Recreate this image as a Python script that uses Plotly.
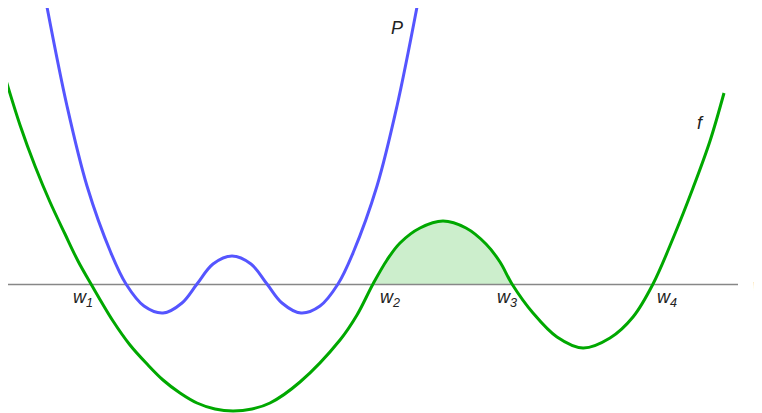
import plotly.graph_objects as go

# points; x along the w axis, y = height above the axis
f_x = [5, 20, 35, 50, 65, 78, 91, 113, 130, 147, 163, 180, 197, 215, 233, 252, 270, 300, 340, 357, 373, 387,
       400, 420, 443, 466, 486, 500, 512, 533, 557, 583, 610, 633, 653, 674, 693, 710, 724]
f_y = [207.5, 159.5, 118.5, 82.5, 50.5, 23.5, 0.5, -36.5, -60.5, -79.5, -95.5, -108.5, -118.5, -124.5,
       -126.5, -124.5, -118.5, -97.5, -55.5, -30.5, 0.5, 24.5, 41.5, 56.5, 63.5, 56.5, 40.5, 22.5, 0.5,
       -28.5, -52.5, -63.5, -53.5, -32.5, 0.5, 48.5, 96.5, 143.5, 191.5]

p_x = [47, 67, 87, 111, 126, 144, 163, 182, 197, 213, 232,
       251, 267, 282, 301, 320, 338, 353, 377, 397, 417]
p_y = [277.5, 178.5, 98.5, 31.5, 0.5, -21.5, -28.5, -18.5, 0.5, 20.5, 28.5,
       20.5, 0.5, -18.5, -28.5, -21.5, 0.5, 31.5, 98.5, 178.5, 277.5]

root_labels = ["1", "2", "3", "4"]
root_x = [83, 390, 507, 667]

GREEN = "rgb(0,168,0)"
BLUE = "rgb(85,85,255)"
GREY = "rgb(135,135,135)"
FONT = "Liberation Sans, Arial, sans-serif"

fig = go.Figure()

# shaded area where f > 0 between w2 and w3
fill_x = [x for x, y in zip(f_x, f_y) if 373 <= x <= 512]
fill_y = [max(y, 0) for x, y in zip(f_x, f_y) if 373 <= x <= 512]
fig.add_trace(go.Scatter(
    x=fill_x, y=fill_y, mode="lines", line=dict(width=0, shape="spline"),
    fill="tozeroy", fillcolor="rgba(0,168,0,0.2)", hoverinfo="skip"
))

# the w axis
fig.add_trace(go.Scatter(
    x=[7, 738], y=[0, 0], mode="lines",
    line=dict(color=GREY, width=1.5), hoverinfo="skip"
))

fig.add_trace(go.Scatter(
    x=p_x, y=p_y, mode="lines", line=dict(color=BLUE, width=3, shape="spline")
))
fig.add_trace(go.Scatter(
    x=f_x, y=f_y, mode="lines", line=dict(color=GREEN, width=3, shape="spline")
))

for lab, x in zip(root_labels, root_x):
    fig.add_annotation(
        x=x, y=-14, text=f"<i>w<sub>{lab}</sub></i>", showarrow=False,
        font=dict(family=FONT, size=18, color="#222")
    )

fig.add_annotation(x=397, y=257, text="<i>P</i>", showarrow=False,
                   font=dict(family=FONT, size=18, color="#222"))
fig.add_annotation(x=700, y=162, text="<i>f</i>", showarrow=False,
                   font=dict(family=FONT, size=18, color="#222"))
fig.add_annotation(x=760, y=-1, text="<i>w</i>", showarrow=False,
                   font=dict(family=FONT, size=18, color=GREY))

# the page body has an 8px margin, so the figure is 8px smaller and the ranges start 8px in
fig.update_layout(
    width=754, height=405,
    margin=dict(l=0, r=0, t=0, b=0),
    paper_bgcolor="white", plot_bgcolor="white",
    showlegend=False,
    xaxis=dict(range=[8, 762], visible=False, fixedrange=True),
    yaxis=dict(range=[-128.5, 276.5], visible=False, fixedrange=True),
)

fig.write_html("out.html")
